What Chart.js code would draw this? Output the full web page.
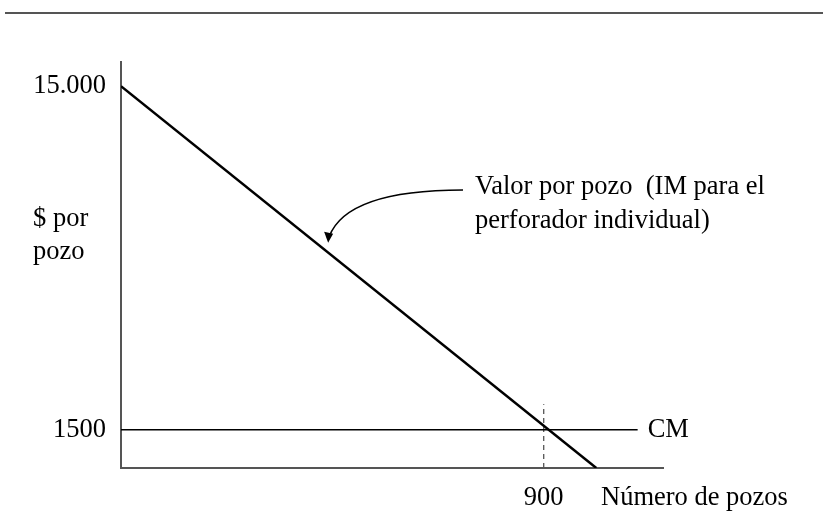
<!DOCTYPE html>
<html lang="es">

<head>
  <meta charset="UTF-8">
  <title>Valor por pozo</title>
  <script src="https://cdn.jsdelivr.net/npm/chart.js"></script>
  <style>
    body {
      margin: 0;
      background-color: white;
    }
  </style>
</head>

<body>
  <canvas id="pozosChart" width="823" height="514"></canvas>

  <script>
    // values
    const valorX = [0, 1012];          // número de pozos
    const valorY = [15000, 0];         // $ por pozo (IM)
    const cmX = [0, 1100];
    const cmY = [1500, 1500];          // costo marginal
    const corteX = [900, 900];
    const corteY = [0, 2500];
    const yTicks = [1500, 15000];
    const yTickLabels = ['1500', '15.000'];
    const xTicks = [900];
    const xTickLabels = ['900'];

    const serif = 'Liberation Serif';
    const fontSize = 26.5;
    const toPoints = (xs, ys) => xs.map((x, i) => ({ x: x, y: ys[i] }));

    // texts, the arrow and the rule at the top
    const notes = {
      id: 'notes',
      afterDraw(chart) {
        const ctx = chart.ctx;
        const xs = chart.scales.x, ys = chart.scales.y;
        ctx.save();
        ctx.strokeStyle = '#555';
        ctx.lineWidth = 2;
        ctx.beginPath();
        ctx.moveTo(5, 13);
        ctx.lineTo(823, 13);
        ctx.stroke();

        ctx.fillStyle = '#000';
        ctx.font = fontSize + 'px "' + serif + '"';
        ctx.textBaseline = 'middle';
        ctx.textAlign = 'left';
        ctx.fillText('$ por', 33, 219);
        ctx.fillText('pozo', 33, 252);
        ctx.fillText('CM', xs.getPixelForValue(1100) + 10, ys.getPixelForValue(1500));
        ctx.fillText('Número de pozos', xs.right - 62, 498);
        ctx.fillText('Valor por pozo  (IM para el', 475, 187);
        ctx.fillText('perforador individual)', 475, 221);

        // curved arrow to the line
        const tx = xs.getPixelForValue(441), ty = ys.getPixelForValue(8850);
        ctx.strokeStyle = '#000';
        ctx.lineWidth = 1.5;
        ctx.beginPath();
        ctx.moveTo(463, 190);
        ctx.bezierCurveTo(400, 190, 343, 200, tx + 1, ty - 6);
        ctx.stroke();
        ctx.beginPath();
        ctx.moveTo(tx, ty);
        ctx.lineTo(tx - 4, ty - 11);
        ctx.lineTo(tx + 5, ty - 9);
        ctx.closePath();
        ctx.fillStyle = '#000';
        ctx.fill();
        ctx.restore();
      }
    };

    const ctx = document.getElementById('pozosChart').getContext('2d');
    new Chart(ctx, {
      type: 'scatter',
      data: {
        datasets: [{
          label: 'Valor por pozo',
          data: toPoints(valorX, valorY),
          showLine: true,
          borderColor: '#000',
          borderWidth: 2.5,
          pointRadius: 0
        }, {
          label: 'CM',
          data: toPoints(cmX, cmY),
          showLine: true,
          borderColor: '#000',
          borderWidth: 1.5,
          pointRadius: 0
        }, {
          label: '900',
          data: toPoints(corteX, corteY),
          showLine: true,
          borderColor: '#555',
          borderWidth: 1.3,
          borderDash: [5, 4],
          pointRadius: 0
        }]
      },
      options: {
        responsive: false,
        animation: false,
        layout: { padding: { left: 0, right: 160, top: 62, bottom: 0 } },
        plugins: {
          legend: { display: false },
          tooltip: { enabled: false }
        },
        scales: {
          x: {
            type: 'linear',
            min: 0,
            max: 1154,
            grid: { display: false, drawTicks: false },
            border: { color: '#555', width: 2 },
            afterBuildTicks: (s) => { s.ticks = xTicks.map(v => ({ value: v })); },
            afterFit: (s) => { s.height = 46; },
            ticks: {
              color: '#000',
              font: { family: serif, size: fontSize },
              padding: 14,
              maxRotation: 0,
              callback: (v, i) => xTickLabels[i]
            }
          },
          y: {
            type: 'linear',
            min: 0,
            max: 15950,
            grid: { display: false, drawTicks: false },
            border: { color: '#555', width: 2 },
            afterBuildTicks: (s) => { s.ticks = yTicks.map(v => ({ value: v })); },
            afterFit: (s) => { s.width = 121; },
            ticks: {
              color: '#000',
              font: { family: serif, size: fontSize },
              padding: 15,
              callback: (v, i) => yTickLabels[i]
            }
          }
        }
      },
      plugins: [notes]
    });
  </script>
</body>

</html>
